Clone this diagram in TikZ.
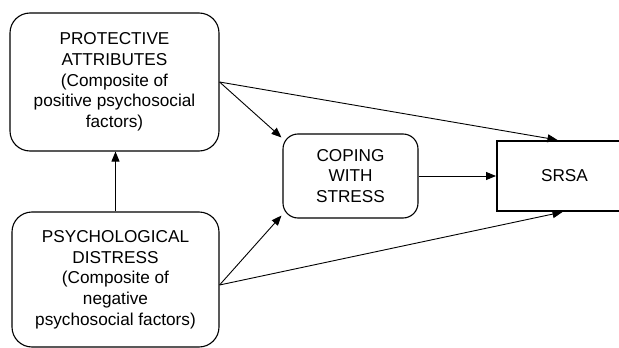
\documentclass[tikz,border=0pt]{standalone}
\usepackage{fontspec}
\setmainfont{Liberation Sans}
\usetikzlibrary{arrows.meta}
\tikzset{
  x=1pt,y=1pt,
  rbox/.style={draw, line width=1.1pt, rounded corners=20pt, align=center, inner sep=0pt,
    font=\fontsize{17.2}{20.7}\selectfont},
  sbox/.style={draw, line width=2pt, align=center, inner sep=0pt,
    font=\fontsize{17.2}{20.7}\selectfont},
  arr/.style={line width=0.9pt, -{Triangle[length=10pt,width=8pt]}}
}
\begin{document}
\begin{tikzpicture}
\useasboundingbox (0,0) rectangle (619,-348);
\clip (0,0) rectangle (619,-348);
\node[rbox, minimum width=209pt, minimum height=138pt] (pa) at (114.5,-82)
  {PROTECTIVE\\ATTRIBUTES\\(Composite of\\positive psychosocial\\factors)};
\node[rbox, minimum width=207pt, minimum height=135pt] (pd) at (115.5,-279.5)
  {PSYCHOLOGICAL\\DISTRESS\\(Composite of\\negative\\psychosocial factors)};
\node[rbox, rounded corners=15pt, minimum width=135pt, minimum height=84pt] (cp) at (350.5,-176)
  {COPING\\WITH\\STRESS};
\node[sbox, minimum width=135pt, minimum height=70pt] (sr) at (564.5,-176) {SRSA};
\draw[arr] (pd.north) -- (pd.north |- pa.south);
\draw[arr] (pa.east) -- ([xshift=-1pt,yshift=-4pt]cp.north west);
\draw[arr] (pa.east) -- ([xshift=-7pt]sr.north);
\draw[arr] (cp.east) -- (sr.west);
\draw[arr] ([yshift=-5.5pt]pd.east) -- ([xshift=-1pt,yshift=3pt]cp.south west);
\draw[arr] ([yshift=-5.5pt]pd.east) -- ([xshift=-2pt]sr.south);
\end{tikzpicture}
\end{document}
